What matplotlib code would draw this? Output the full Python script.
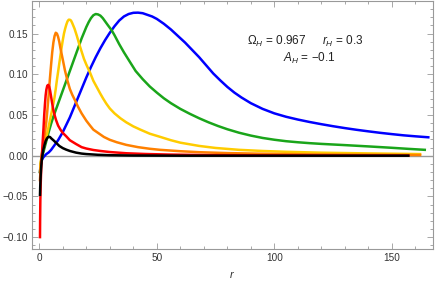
import matplotlib.pyplot as plt
from matplotlib.ticker import MultipleLocator

# ---- data (r, value) ----
r_blue = [0.3, 0.6, 1, 1.5, 2, 3, 4, 5, 6, 7, 8, 9, 10, 11, 12, 13, 14, 15, 16, 17, 18, 19, 20, 22, 24,
          26, 28, 30, 32, 34, 36, 38, 40, 42, 44, 46, 48, 50, 53, 56, 59, 62, 65, 68, 71, 74, 77, 80, 83,
          86, 90, 95, 100, 105, 110, 115, 120, 125, 130, 135, 140, 145, 150, 155, 160, 165.5]
v_blue = [-0.02, -0.012, -0.006, -0.003, -0.001, 0.002, 0.004, 0.007, 0.011, 0.015, 0.019, 0.024, 0.029,
          0.035, 0.041, 0.047, 0.054, 0.061, 0.068, 0.075, 0.082, 0.089, 0.096, 0.109, 0.121, 0.132, 0.142,
          0.151, 0.159, 0.166, 0.171, 0.174, 0.1755, 0.1757, 0.175, 0.173, 0.171, 0.168, 0.162, 0.155,
          0.147, 0.139, 0.130, 0.121, 0.111, 0.101, 0.0925, 0.0845, 0.0775, 0.0715, 0.0645, 0.0575, 0.052,
          0.0478, 0.0444, 0.0414, 0.0387, 0.0362, 0.0339, 0.0318, 0.0299, 0.0281, 0.0265, 0.025, 0.0238,
          0.0226]

r_green = [0.3, 0.6, 1, 1.5, 2, 3, 4, 5, 6, 7, 8, 9, 10, 11, 12, 13, 14, 15, 16, 17, 18, 19, 20, 21, 22,
           23, 24, 25, 26, 27, 28, 29, 30.8, 32, 34, 36, 38.6, 41, 44, 47, 50, 53, 56, 60, 64, 68, 72, 76,
           80, 85, 90, 95, 100, 105, 110, 115, 120, 130, 140, 150, 157, 164]
v_green = [-0.02, -0.01, -0.003, 0.002, 0.007, 0.018, 0.029, 0.039, 0.048, 0.056, 0.064, 0.072, 0.080,
           0.088, 0.096, 0.104, 0.112, 0.120, 0.128, 0.136, 0.144, 0.151, 0.158, 0.164, 0.169, 0.1725,
           0.174, 0.1735, 0.172, 0.169, 0.165, 0.161, 0.154, 0.148, 0.137, 0.127, 0.115, 0.104, 0.094,
           0.085, 0.0775, 0.0705, 0.0645, 0.0575, 0.0515, 0.046, 0.041, 0.0365, 0.0325, 0.0282, 0.0247,
           0.0218, 0.0196, 0.0178, 0.0165, 0.0154, 0.0145, 0.013, 0.0114, 0.0097, 0.0084, 0.0072]

r_yellow = [0.3, 0.6, 1, 1.5, 2, 2.5, 3, 3.5, 4, 4.5, 5, 5.5, 6, 6.5, 7, 7.5, 8, 8.5, 9, 9.5, 10, 10.5,
            11, 11.5, 12, 12.5, 13, 13.5, 14, 15, 16, 17, 18, 19, 20, 21.6, 23, 24.5, 26, 27.2, 28.5, 30,
            32, 34.5, 37, 40, 43, 47, 51, 56, 60, 64, 68, 75, 85, 95, 105, 120, 140, 162]
v_yellow = [-0.02, -0.008, 0.0, 0.006, 0.012, 0.018, 0.023, 0.029, 0.036, 0.043, 0.05, 0.057, 0.064,
            0.072, 0.082, 0.093, 0.103, 0.113, 0.123, 0.133, 0.142, 0.150, 0.156, 0.161, 0.165, 0.167,
            0.167, 0.166, 0.163, 0.156, 0.147, 0.137, 0.128, 0.119, 0.112, 0.102, 0.092, 0.084, 0.076,
            0.070, 0.064, 0.058, 0.052, 0.046, 0.041, 0.036, 0.032, 0.027, 0.0235, 0.019, 0.016, 0.014,
            0.012, 0.0095, 0.0072, 0.0058, 0.0048, 0.0037, 0.0028, 0.002]

r_orange = [0.3, 0.6, 1, 1.5, 2, 2.4, 3, 3.5, 4, 4.5, 5, 5.5, 6, 6.5, 7, 7.5, 8, 8.5, 9, 9.5, 10, 10.9,
            12, 13, 14, 15.2, 16.5, 18, 20, 21.6, 23, 25, 27.5, 30, 33, 37, 42, 47, 51.4, 60, 68, 80, 95,
            110, 130, 150, 162]
v_orange = [-0.03, -0.012, 0.0, 0.01, 0.02, 0.0275, 0.042, 0.058, 0.075, 0.094, 0.111, 0.127, 0.139,
            0.147, 0.151, 0.150, 0.146, 0.140, 0.132, 0.125, 0.118, 0.105, 0.092, 0.082, 0.075, 0.068,
            0.060, 0.052, 0.043, 0.037, 0.032, 0.028, 0.023, 0.0195, 0.0165, 0.0133, 0.0105, 0.0085,
            0.0072, 0.0055, 0.0043, 0.0032, 0.0024, 0.0018, 0.0013, 0.001, 0.0008]

r_red = [0.3, 0.35, 0.45, 0.6, 0.8, 1.0, 1.2, 1.5, 1.8, 2.1, 2.4, 2.7, 3.0, 3.4, 3.8, 4.2, 4.6, 5.0, 5.5,
         6.0, 6.5, 7.1, 8, 9, 10, 11.4, 13, 15.6, 18, 20, 23, 26, 30, 37, 45, 55, 70, 90, 120, 157]
v_red = [-0.10, -0.08, -0.055, -0.035, -0.018, -0.005, 0.005, 0.02, 0.034, 0.05, 0.063, 0.074, 0.081,
         0.086, 0.087, 0.085, 0.080, 0.073, 0.064, 0.056, 0.050, 0.044, 0.037, 0.032, 0.028, 0.024, 0.019,
         0.0144, 0.0105, 0.0088, 0.007, 0.0058, 0.0045, 0.003, 0.0021, 0.0014, 0.0008, 0.0005, 0.0002,
         0.0001]

r_black = [0.3, 0.4, 0.55, 0.75, 1.0, 1.3, 1.7, 2.2, 2.7, 3.2, 3.7, 4.1, 4.6, 5.2, 6, 7.1, 8.5, 10, 11.4,
           13, 15.6, 18, 20, 25, 30, 40, 60, 157]
v_black = [-0.048, -0.038, -0.027, -0.016, -0.007, 0.0, 0.007, 0.013, 0.018, 0.021, 0.0228, 0.0233,
           0.0228, 0.021, 0.019, 0.016, 0.012, 0.0093, 0.0075, 0.0058, 0.0038, 0.0026, 0.002, 0.0011,
           0.0006, 0.0002, 0.0, 0.0]

series = [
    (r_blue, v_blue, "#0000ff"),
    (r_green, v_green, "#1aa51a"),
    (r_yellow, v_yellow, "#ffcc00"),
    (r_orange, v_orange, "#ff8000"),
    (r_red, v_red, "#ff0000"),
    (r_black, v_black, "#000000"),
]

plt.rcParams['font.family'] = ['Liberation Sans', 'DejaVu Sans']
plt.rcParams['mathtext.fontset'] = 'custom'
plt.rcParams['mathtext.it'] = 'Liberation Sans:italic'
plt.rcParams['mathtext.rm'] = 'Liberation Sans'

fig = plt.figure(figsize=(4.36, 2.88), dpi=100)
ax = fig.add_axes([32 / 436, 1 - 249 / 288, 401 / 436, 248 / 288])

ax.axhline(0, color="#999999", lw=1.0, zorder=1)
for r, v, c in series:
    ax.plot(r, v, color=c, lw=1.8, solid_joinstyle="round", zorder=2)

ax.set_xlim(-3.1, 167.5)
ax.set_ylim(-0.1146, 0.190)

ax.xaxis.set_major_locator(MultipleLocator(50))
ax.xaxis.set_minor_locator(MultipleLocator(10))
ax.yaxis.set_major_locator(MultipleLocator(0.05))
ax.yaxis.set_minor_locator(MultipleLocator(0.01))
ax.yaxis.set_major_formatter(plt.FuncFormatter(lambda y, p: f"{y:.2f}".replace("-", "\u2212")))

gray = "#999999"
for s in ax.spines.values():
    s.set_color(gray)
    s.set_linewidth(0.8)
ax.tick_params(which="both", direction="in", top=True, right=True, color=gray,
               labelsize=7.2, labelcolor="#333333", width=0.6, pad=3)
ax.tick_params(which="major", length=4)
ax.tick_params(which="minor", length=2)

ax.set_xlabel("$r$", fontsize=8, color="#333333", labelpad=4)

txt = dict(transform=ax.transAxes, fontsize=8.5, color="#222222")
ax.text(0.536, 0.823, r"$\Omega_H$ = 0.967", **txt)
ax.text(0.723, 0.823, r"$r_H$ = 0.3", **txt)
ax.text(0.626, 0.753, "$A_H$ = \u22120.1", **txt)

fig.savefig("out.png", dpi=100)
